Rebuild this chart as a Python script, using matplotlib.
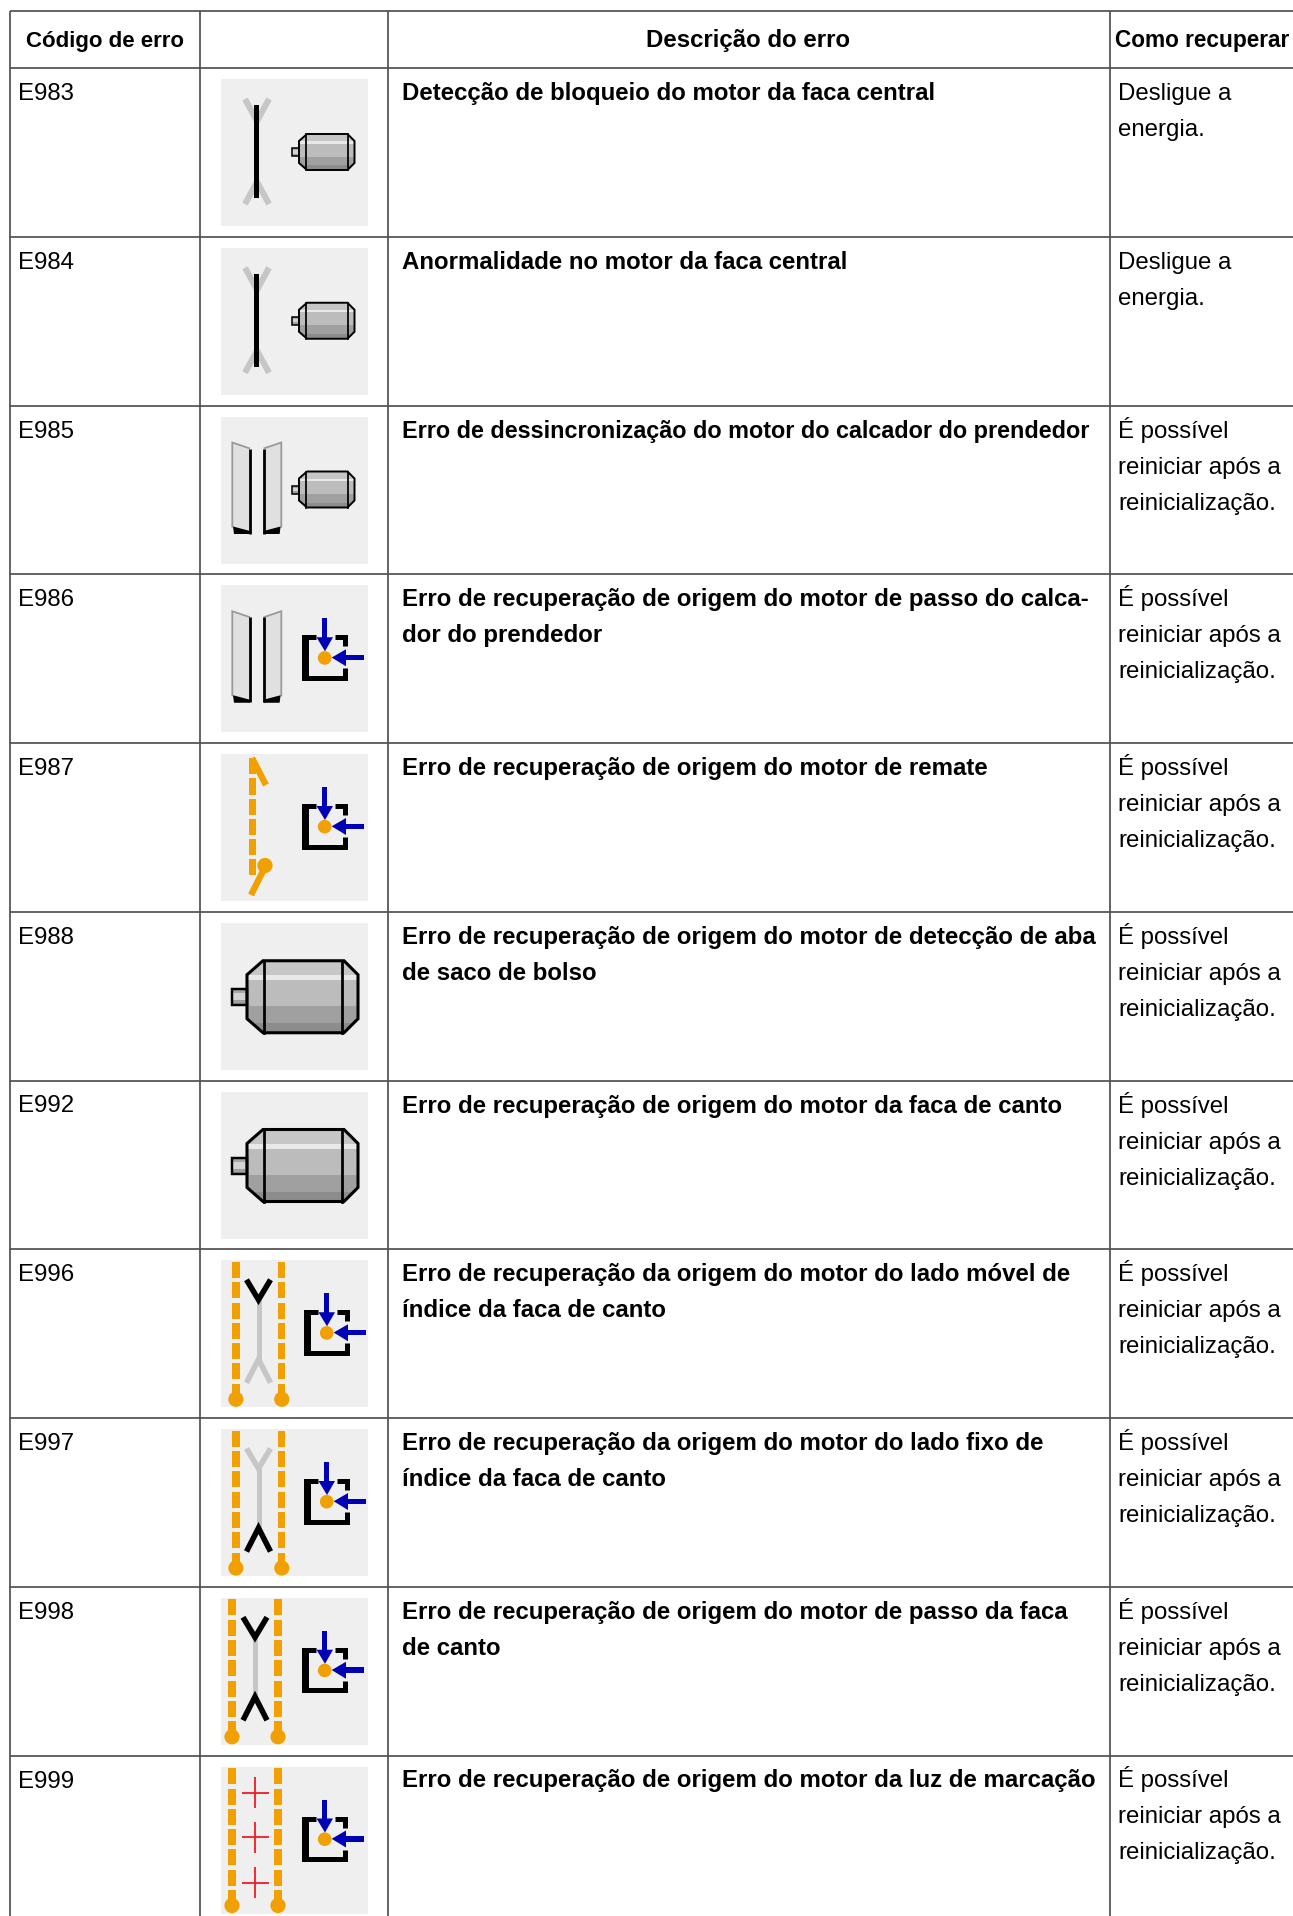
import matplotlib
matplotlib.use('Agg')
import matplotlib.pyplot as plt
from matplotlib.patches import Rectangle, Polygon, Circle

codes = ['E983', 'E984', 'E985', 'E986', 'E987', 'E988', 'E992', 'E996', 'E997', 'E998', 'E999']
descriptions = [
    ['Detecção de bloqueio do motor da faca central'],
    ['Anormalidade no motor da faca central'],
    ['Erro de dessincronização do motor do calcador do prendedor'],
    ['Erro de recuperação de origem do motor de passo do calca-', 'dor do prendedor'],
    ['Erro de recuperação de origem do motor de remate'],
    ['Erro de recuperação de origem do motor de detecção de aba', 'de saco de bolso'],
    ['Erro de recuperação de origem do motor da faca de canto'],
    ['Erro de recuperação da origem do motor do lado móvel de', 'índice da faca de canto'],
    ['Erro de recuperação da origem do motor do lado fixo de', 'índice da faca de canto'],
    ['Erro de recuperação de origem do motor de passo da faca', 'de canto'],
    ['Erro de recuperação de origem do motor da luz de marcação'],
]
recover_off = ['Desligue a', 'energia.']
recover_reset = ['É possível', 'reiniciar após a', 'reinicialização.']
recoveries = [recover_off, recover_off] + [recover_reset] * 9
headers = ['Código de erro', '', 'Descrição do erro', 'Como recuperar']
icon_kinds = ['knife_motor', 'knife_motor', 'presser_motor', 'presser_origin', 'bartack',
              'big_motor', 'big_motor', 'corner_top', 'corner_bottom', 'corner_both', 'marking']

col_x = [10, 200, 388, 1110]
table_top = 11
header_bottom = 68
row_h = 168.75
box_size = 147
width, height = 1293, 1916

ORANGE = '#f0a000'
BLUE = '#0000b4'
LINE = '#505050'
GREY = '#c6c6c6'

plt.rcParams['font.family'] = ['Liberation Sans', 'DejaVu Sans']

fig = plt.figure(figsize=(width / 100, height / 100), dpi=100)
ax = fig.add_axes([0, 0, 1, 1])
ax.set_xlim(0, width)
ax.set_ylim(height, 0)
ax.axis('off')


def line(pts, ox, oy, color='black', lw=3.0, z=3, cap='butt', join='miter'):
    xs = [p[0] + ox for p in pts]
    ys = [p[1] + oy for p in pts]
    ax.plot(xs, ys, color=color, lw=lw, zorder=z, solid_capstyle=cap, solid_joinstyle=join)


def poly(pts, ox, oy, **kw):
    p = Polygon([(x + ox, y + oy) for x, y in pts], closed=True, **kw)
    ax.add_patch(p)
    return p


def motor(ox, oy, s=1.0, dx=0, dy=0, lw=2.0):
    # big motor shape in icon units, small one is the same at half size
    def t(x, y):
        return (ox + dx + x * s, oy + dy + y * s)
    outline = [(26, 52), (42, 38), (123, 38), (137, 52), (137, 96), (123, 110), (42, 110), (26, 96)]
    body = Polygon([t(x, y) for x, y in outline], closed=True, fc='none', ec='black', lw=lw, zorder=5,
                   joinstyle='miter')
    ax.add_patch(body)
    stripes = [(38, 52, '#c6c6c6'), (52, 57, '#e8e8e8'), (57, 83, '#bcbcbc'),
               (83, 100, '#a0a0a0'), (100, 110, '#8c8c8c')]
    for y0, y1, c in stripes:
        r = Rectangle(t(26, y0), 111 * s, (y1 - y0) * s, fc=c, ec='none', zorder=4)
        ax.add_patch(r)
        r.set_clip_path(body)
    for y0, y1, c in [(66, 70, '#a8a8a8'), (70, 77, '#d4d4d4'), (77, 82, '#a0a0a0')]:
        ax.add_patch(Rectangle(t(11, y0), 15 * s, (y1 - y0) * s, fc=c, ec='none', zorder=4))
    ax.add_patch(Rectangle(t(11, 66), 15 * s, 16 * s, fc='none', ec='black', lw=lw * 0.8, zorder=5))
    for x in ((43, 121) if s == 1 else (40, 123)):
        ax.plot([t(x, 38)[0]] * 2, [t(x, 38)[1], t(x, 110)[1]], color='black', lw=lw * 0.9, zorder=5)


def origin(ox, oy, dx=0):
    x0 = ox + dx
    line([(95, 52), (83.2, 52), (83.2, 92.5), (124.2, 92.5), (124.2, 83)], x0, oy, lw=3.6)
    line([(114, 52), (124.2, 52), (124.2, 61)], x0, oy, lw=3.6)
    ax.add_patch(Rectangle((x0 + 85, oy + 50), 2.6, 44, fc='black', ec='none', zorder=3))
    ax.add_patch(Circle((x0 + 103.7, oy + 72.7), 6.8, fc=ORANGE, ec='none', zorder=4))
    ax.add_patch(Rectangle((x0 + 101, oy + 33), 5.4, 20, fc=BLUE, ec='none', zorder=5))
    poly([(95.5, 52), (112, 52), (104, 66)], x0, oy, fc=BLUE, ec='none', zorder=5)
    ax.add_patch(Rectangle((x0 + 124, oy + 69.6), 19, 5.6, fc=BLUE, ec='none', zorder=5))
    poly([(125, 64), (125, 81), (110.7, 72.3)], x0, oy, fc=BLUE, ec='none', zorder=5)


def needle_x(ox, oy):
    line([(24, 20), (36, 42), (48, 20)], ox, oy, color=GREY, lw=4.4)
    line([(24, 125), (36, 103), (48, 125)], ox, oy, color=GREY, lw=4.4)
    ax.add_patch(Rectangle((ox + 33.2, oy + 26), 5.2, 93, fc='black', ec='none', zorder=4))


def presser(ox, oy):
    for flip in (False, True):
        def fx(x):
            return 71.6 - x if flip else x
        poly([(fx(11.3), 26), (fx(29), 32), (fx(29), 116), (fx(11.3), 111)], ox, oy,
             fc='#e0e0e0', ec='none', zorder=3)
        line([(fx(11.3), 111), (fx(11.3), 26), (fx(29), 32)], ox, oy, color='#9a9a9a', lw=1.3, z=4)
        line([(fx(29), 32), (fx(29), 117)], ox, oy, color='black', lw=2.0, z=4)
        poly([(fx(12), 110), (fx(29), 114.5), (fx(29), 117.5), (fx(13), 117.5)], ox, oy,
             fc='black', ec='none', zorder=4)


def dashes(ox, oy, x0, w=7.2, ball=True):
    for i in range(7):
        y = 1.7 + 20.3 * i
        h = 16 if i < 6 else 18
        ax.add_patch(Rectangle((ox + x0, oy + y), w, h, fc=ORANGE, ec='none', zorder=3))
    if ball:
        ax.add_patch(Circle((ox + x0 + w / 2, oy + 139), 7.6, fc=ORANGE, ec='none', zorder=3))


def y_marks(ox, oy, cx, top_c, bottom_c):
    line([(cx, 39), (cx, 99)], ox, oy, color=GREY, lw=3.6)
    line([(cx - 12, 19.5), (cx, 39.5), (cx + 12, 19.5)], ox, oy, color=top_c, lw=4.0, z=4)
    line([(cx - 12, 122.5), (cx, 99), (cx + 12, 122.5)], ox, oy, color=bottom_c, lw=4.0, z=4)


def bartack(ox, oy):
    for i in range(6):
        ax.add_patch(Rectangle((ox + 28, oy + 4.3 + 20.2 * i), 7.2, 16, fc=ORANGE, ec='none', zorder=3))
    ax.add_patch(Rectangle((ox + 28, oy + 24), 7.2, 8, fc=ORANGE, ec='none', zorder=3))
    line([(31, 4), (45, 31)], ox, oy, color=ORANGE, lw=4.6)
    line([(30, 141), (44, 113)], ox, oy, color=ORANGE, lw=4.6)
    ax.add_patch(Circle((ox + 44, oy + 111.5), 7.6, fc=ORANGE, ec='none', zorder=4))


def draw_icon(kind, ox, oy):
    ax.add_patch(Rectangle((ox, oy), box_size, box_size, fc='#efefef', ec='none', zorder=2))
    if kind == 'knife_motor':
        needle_x(ox, oy)
        motor(ox, oy, 0.5, 65, 36, lw=1.4)
    elif kind == 'presser_motor':
        presser(ox, oy)
        motor(ox, oy, 0.5, 65, 36, lw=1.4)
    elif kind == 'presser_origin':
        presser(ox, oy)
        origin(ox, oy)
    elif kind == 'bartack':
        bartack(ox, oy)
        origin(ox, oy)
    elif kind == 'big_motor':
        motor(ox, oy, 1.0, lw=2.2)
    elif kind in ('corner_top', 'corner_bottom'):
        dashes(ox, oy, 11.3)
        dashes(ox, oy, 57.2)
        if kind == 'corner_top':
            y_marks(ox, oy, 37.5, 'black', GREY)
        else:
            y_marks(ox, oy, 37.5, GREY, 'black')
        origin(ox, oy, 2)
    elif kind == 'corner_both':
        dashes(ox, oy, 7.4)
        dashes(ox, oy, 53.4)
        y_marks(ox, oy, 34, 'black', 'black')
        origin(ox, oy)
    elif kind == 'marking':
        dashes(ox, oy, 7.4)
        dashes(ox, oy, 53.4)
        for cy in (26, 70.5, 116):
            line([(20.5, cy), (47.5, cy)], ox, oy, color='#f01c28', lw=1.3)
            line([(34, cy - 15.5), (34, cy + 15.5)], ox, oy, color='#f01c28', lw=1.3)
        origin(ox, oy)


# grid
n = len(codes)
grid = dict(color=LINE, lw=1.25, zorder=1, solid_capstyle='butt')
ax.plot([col_x[0], width], [table_top, table_top], **grid)
for i in range(n):
    y = header_bottom + row_h * i
    ax.plot([col_x[0], width], [y, y], **grid)
for x in col_x:
    ax.plot([x, x], [table_top, height], **grid)

# header
fs = 17.3
header_y = 47
ax.text(105, header_y, headers[0], fontsize=16, fontweight='bold', ha='center', va='baseline')
ax.text(748, header_y, headers[2], fontsize=fs, fontweight='bold', ha='center', va='baseline')
ax.text(1115, header_y, headers[3], fontsize=16.3, fontweight='bold', ha='left', va='baseline')

# rows
line_h = 36
for i in range(n):
    top = header_bottom + row_h * i
    base = top + 32
    ax.text(18, base, codes[i], fontsize=fs, ha='left', va='baseline')
    desc_fs = 16.85 if codes[i] == 'E985' else fs  # this one is squeezed to fit the cell
    for j, s in enumerate(descriptions[i]):
        ax.text(402, base + j * line_h, s, fontsize=desc_fs, fontweight='bold', ha='left', va='baseline')
    for j, s in enumerate(recoveries[i]):
        ax.text(1118, base + j * line_h, s, fontsize=fs, ha='left', va='baseline')
    draw_icon(icon_kinds[i], 221, top + 11)

fig.savefig('out.png', dpi=100)
